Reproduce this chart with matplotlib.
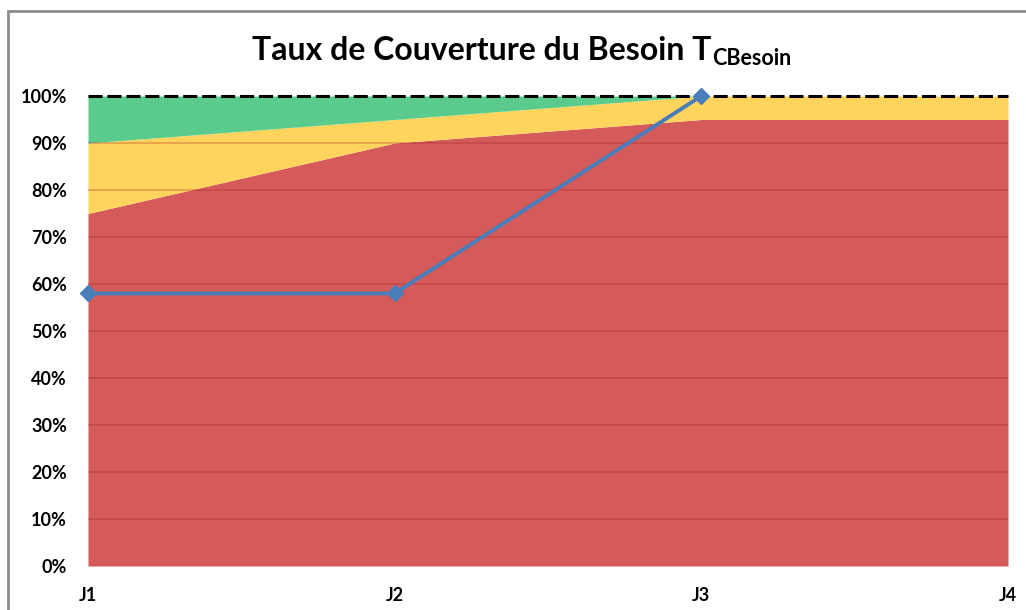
import matplotlib.pyplot as plt
from matplotlib.patches import Rectangle
import numpy as np

plt.rcParams['font.family'] = ['Lato', 'DejaVu Sans']

# jours et paliers de couverture (en fraction du besoin)
jours = ['J1', 'J2', 'J3', 'J4']
seuil_rouge = [0.75, 0.90, 0.95, 0.95]
seuil_jaune = [0.90, 0.95, 1.00, 1.00]
seuil_vert = [1.00, 1.00, 1.00, 1.00]
taux = [0.58, 0.58, 1.00]

x = np.arange(len(jours))

fig = plt.figure(figsize=(10.26, 6.10), dpi=100)
ax = fig.add_axes([88 / 1026, 1 - 566 / 610, 920 / 1026, 470 / 610])

ax.fill_between(x, 0, seuil_rouge, color='#D55A5A', lw=0, zorder=1)
ax.fill_between(x, seuil_rouge, seuil_jaune, color='#FFD45C', lw=0, zorder=1)
ax.fill_between(x, seuil_jaune, seuil_vert, color='#5BCB8D', lw=0, zorder=1)

# lignes de quadrillage par-dessus les aires
for g in np.arange(0.1, 1.0, 0.1):
    ax.axhline(g, color='#A02020', alpha=0.3, lw=1.2, zorder=2)

ax.plot(x, seuil_vert, color='black', lw=2.2, ls=(0, (4.6, 1.6)), zorder=3,
        clip_on=False)
ax.plot(x[:len(taux)], taux, color='#4A7EBB', lw=2.8, marker='D', ms=8,
        zorder=4, clip_on=False)

ax.set_xlim(0, len(jours) - 1)
ax.set_ylim(0, 1)
ax.set_xticks(x, jours)
ax.set_yticks(np.arange(0, 1.01, 0.1), [f'{int(round(v * 100))}%' for v in np.arange(0, 1.01, 0.1)])
ax.tick_params(length=0)
ax.tick_params(axis='x', pad=15, labelsize=13)
ax.tick_params(axis='y', pad=15, labelsize=13)
for lab in ax.get_xticklabels() + ax.get_yticklabels():
    lab.set_fontweight('bold')
for s in ax.spines.values():
    s.set_visible(False)

titre = fig.text(0.469, 1 - 50 / 610, 'Taux de Couverture du Besoin T', ha='center',
                 va='center', fontsize=23, fontweight='bold')
ax.annotate('CBesoin', xy=(1, 0), xycoords=titre, xytext=(1, 4),
            textcoords='offset points', ha='left', va='center',
            fontsize=15.5, fontweight='bold')

# cadre du graphique
fig.patches.append(Rectangle((8 / 1026, -0.1), 1.2, 1 - 11 / 610 + 0.1,
                             transform=fig.transFigure, fill=False,
                             edgecolor='#8C8C8C', lw=2))

fig.savefig('out.png', dpi=100)
